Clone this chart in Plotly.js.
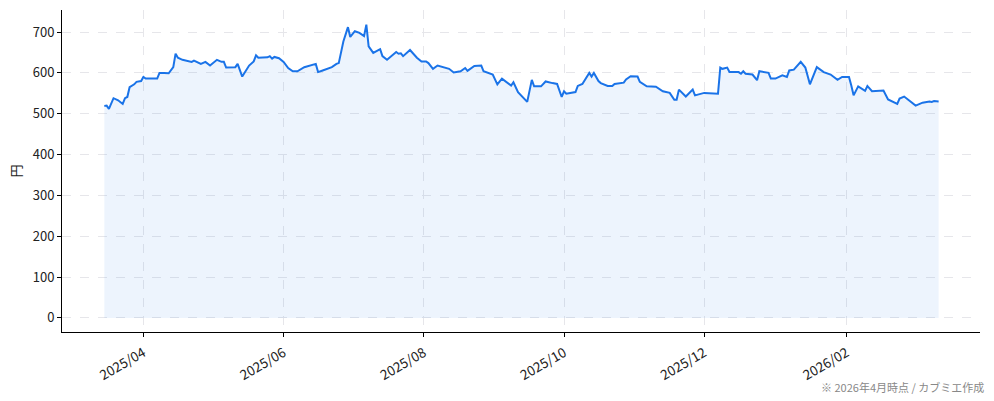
<!DOCTYPE html>
<html>
<head>
<meta charset="utf-8">
<script src="https://cdn.plot.ly/plotly-3.0.1.min.js"></script>
<style>html,body{margin:0;padding:0;background:#fff;}#chart{width:994px;height:401px;}</style>
</head>
<body>
<div id="chart"></div>
<script>
const dates = [
"2025-03-15","2025-03-16","2025-03-17","2025-03-19","2025-03-21","2025-03-23","2025-03-24","2025-03-25","2025-03-26","2025-03-28","2025-03-29","2025-03-31",
"2025-04-01","2025-04-02","2025-04-07","2025-04-08","2025-04-10","2025-04-12","2025-04-14","2025-04-15","2025-04-16","2025-04-18","2025-04-22","2025-04-23","2025-04-26","2025-04-28","2025-04-30",
"2025-05-03","2025-05-05","2025-05-06","2025-05-07","2025-05-11","2025-05-12","2025-05-14","2025-05-17","2025-05-19","2025-05-20","2025-05-21","2025-05-25","2025-05-26","2025-05-27","2025-05-28","2025-05-30",
"2025-06-01","2025-06-03","2025-06-05","2025-06-07","2025-06-09","2025-06-10","2025-06-15","2025-06-16","2025-06-18","2025-06-22","2025-06-24","2025-06-25","2025-06-27","2025-06-29","2025-06-30",
"2025-07-02","2025-07-04","2025-07-06","2025-07-07","2025-07-08","2025-07-10","2025-07-13","2025-07-14","2025-07-16","2025-07-20","2025-07-21","2025-07-22","2025-07-23","2025-07-26","2025-07-29","2025-07-31",
"2025-08-02","2025-08-03","2025-08-05","2025-08-07","2025-08-10","2025-08-12","2025-08-14","2025-08-17","2025-08-19","2025-08-20","2025-08-23","2025-08-26","2025-08-27","2025-08-31",
"2025-09-02","2025-09-04","2025-09-08","2025-09-09","2025-09-11","2025-09-15","2025-09-17","2025-09-18","2025-09-21","2025-09-23","2025-09-26","2025-09-28","2025-09-30",
"2025-10-01","2025-10-02","2025-10-06","2025-10-07","2025-10-09","2025-10-12","2025-10-13","2025-10-14","2025-10-16","2025-10-17","2025-10-20","2025-10-22","2025-10-23","2025-10-27","2025-10-28","2025-10-30",
"2025-11-02","2025-11-03","2025-11-04","2025-11-06","2025-11-10","2025-11-13","2025-11-16","2025-11-18","2025-11-19","2025-11-20","2025-11-23","2025-11-26","2025-11-27",
"2025-12-01","2025-12-07","2025-12-08","2025-12-09","2025-12-11","2025-12-12","2025-12-16","2025-12-17","2025-12-18","2025-12-19","2025-12-22","2025-12-24","2025-12-25","2025-12-29","2025-12-30",
"2026-01-01","2026-01-03","2026-01-04","2026-01-06","2026-01-07","2026-01-09","2026-01-12","2026-01-14","2026-01-16","2026-01-19","2026-01-22","2026-01-25","2026-01-28","2026-01-30",
"2026-02-02","2026-02-03","2026-02-04","2026-02-06","2026-02-09","2026-02-10","2026-02-12","2026-02-17","2026-02-19","2026-02-23","2026-02-24","2026-02-26","2026-02-28",
"2026-03-03","2026-03-06","2026-03-09","2026-03-10","2026-03-11","2026-03-13"
];
const prices = [
519,520,512,538,533,524,538,541,565,572,578,580,
590,586,586,600,600,599,614,647,637,632,627,630,622,627,618,
632,627,627,613,614,622,591,618,628,643,637,638,641,635,639,636,
627,612,604,604,612,614,622,602,606,614,622,624,677,712,688,
702,698,690,718,665,649,658,641,632,651,647,648,641,656,637,628,
628,624,610,618,613,610,601,604,612,605,617,618,604,596,
572,586,569,577,553,529,583,567,567,579,575,573,541,
555,549,553,568,573,600,591,600,580,575,568,568,573,576,584,592,
591,578,574,567,566,555,551,534,534,559,542,559,545,
551,549,613,610,613,602,602,598,604,598,596,582,604,600,586,
586,592,594,590,606,608,627,613,572,614,602,596,583,590,
590,569,545,567,556,568,555,557,535,524,537,542,534,
520,527,530,529,531,530
];
const yTicks = [0,100,200,300,400,500,600,700];
const yLabel = "円";
const noteText = "※ 2026年4月時点 / カブミエ作成";

const FONT = "'Noto Sans CJK JP', 'Noto Sans', sans-serif";

const trace = {
  x: dates, y: prices, type: "scatter", mode: "lines",
  line: {color: "#1a73e8", width: 2},
  fill: "tozeroy", fillcolor: "rgba(26,115,232,0.08)",
  hoverinfo: "skip"
};

const layout = {
  width: 994, height: 401,
  margin: {l: 62, r: 14, t: 10, b: 69},
  paper_bgcolor: "#fff", plot_bgcolor: "#fff",
  showlegend: false,
  font: {family: FONT, size: 12, color: "#222"},
  xaxis: {
    type: "date",
    range: ["2025-02-24 14:00", "2026-03-31 00:00"],
    tick0: "2025-04-01", dtick: "M2", tickformat: "%Y/%m",
    tickangle: -30,
    ticks: "outside", ticklen: 4, tickcolor: "#000", tickwidth: 1,
    ticklabelstandoff: 3,
    showline: true, linecolor: "#000", linewidth: 1, mirror: false,
    showgrid: true, gridcolor: "#e6e6ea", griddash: "dash", gridwidth: 1,
    zeroline: false,
    tickfont: {family: FONT, size: 13.5, color: "#222"}
  },
  yaxis: {
    range: [-34.5, 754],
    tickvals: yTicks,
    ticks: "outside", ticklen: 4, tickcolor: "#000", tickwidth: 1,
    showline: true, linecolor: "#000", linewidth: 1, mirror: false,
    showgrid: true, gridcolor: "#e6e6ea", griddash: "dash", gridwidth: 1,
    zeroline: false,
    tickfont: {family: FONT, size: 13, color: "#222"},
    title: {text: yLabel, font: {family: FONT, size: 13, color: "#222"}, standoff: 8}
  },
  annotations: [{
    text: noteText, xref: "paper", yref: "paper",
    x: 1.006, y: -0.14, xanchor: "right", yanchor: "top",
    showarrow: false, font: {family: FONT, size: 11, color: "#888"}
  }]
};

Plotly.newPlot("chart", [trace], layout, {staticPlot: true, displayModeBar: false});
</script>
</body>
</html>
